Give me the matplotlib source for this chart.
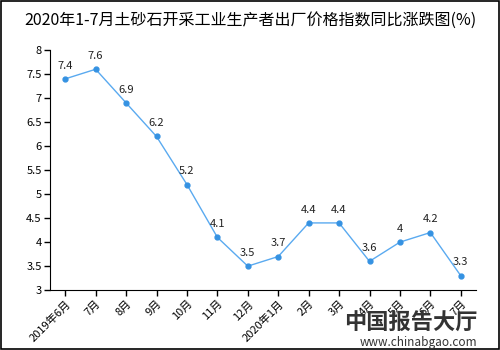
import matplotlib.pyplot as plt
from matplotlib.patches import Rectangle

plt.rcParams['font.family'] = ['Noto Sans CJK SC', 'DejaVu Sans']

months = ['2019年6月', '7月', '8月', '9月', '10月', '11月', '12月',
          '2020年1月', '2月', '3月', '4月', '5月', '6月', '7月']
values = [7.4, 7.6, 6.9, 6.2, 5.2, 4.1, 3.5, 3.7, 4.4, 4.4, 3.6, 4, 4.2, 3.3]

fig = plt.figure(figsize=(5, 3.5), dpi=100)
ax = fig.add_axes([0.1, 0.171, 0.852, 0.686])

x = list(range(len(months)))
ax.plot(x, values, color='#5aaaf0', linewidth=1, marker='o', markersize=3.5,
        markerfacecolor='#3592e2', markeredgecolor='#3592e2')

for i, v in zip(x, values):
    ax.annotate(f'{v:g}', (i, v), xytext=(0, 6), textcoords='offset points',
                ha='center', va='bottom', fontsize=8, color='#222222')

ax.set_xlim(-0.5, len(months) - 0.5)
ax.set_ylim(3, 8)
ax.set_yticks([3, 3.5, 4, 4.5, 5, 5.5, 6, 6.5, 7, 7.5, 8])
ax.set_yticklabels(['3', '3.5', '4', '4.5', '5', '5.5', '6', '6.5', '7', '7.5', '8'])
ax.set_xticks(x)
ax.set_xticklabels(months, rotation=45, ha='right', rotation_mode='anchor')
ax.tick_params(axis='both', direction='out', length=4, width=1, labelsize=8, pad=2)
ax.spines['top'].set_visible(False)
ax.spines['right'].set_visible(False)

fig.suptitle('2020年1-7月土砂石开采工业生产者出厂价格指数同比涨跌图(%)',
             y=0.965, fontsize=11.5)

# watermark
fig.text(0.955, 0.075, '中国报告大厅', ha='right', va='center', fontsize=16,
         fontweight='bold', color='#333333')
fig.text(0.955, 0.022, 'www.chinabgao.com', ha='right', va='center', fontsize=8.5,
         color='#333333')

# outer frame
fig.patches.append(Rectangle((0.002, 0.003), 0.996, 0.994, transform=fig.transFigure,
                             fill=False, edgecolor='black', linewidth=1.2))

fig.savefig('out.png', dpi=100)
